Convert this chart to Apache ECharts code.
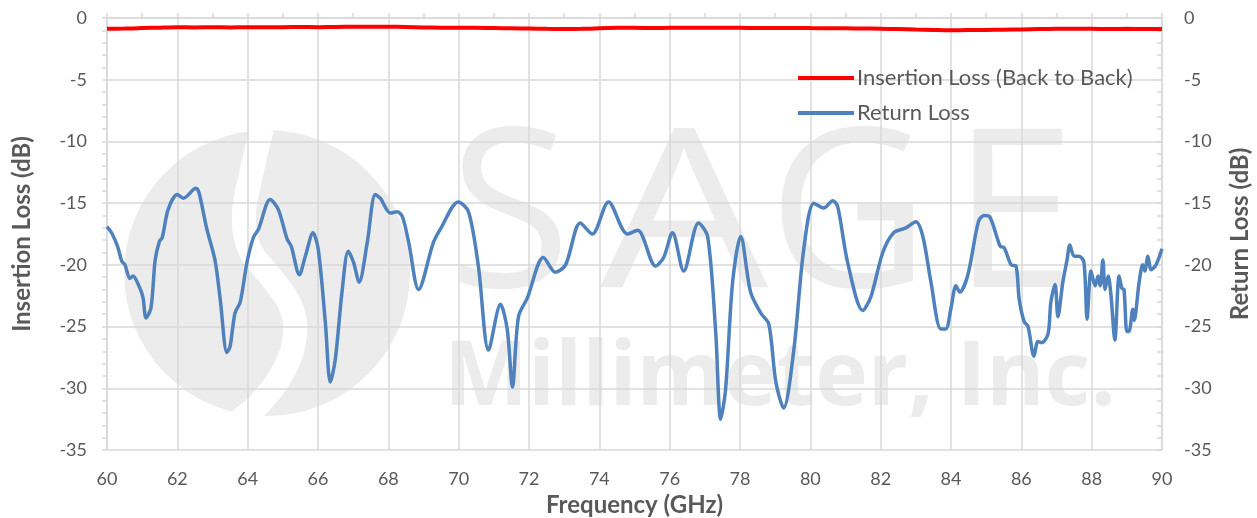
<!DOCTYPE html>
<html><head><meta charset="utf-8">
<script src="https://cdn.jsdelivr.net/npm/echarts@6/dist/echarts.min.js"></script>
<style>html,body{margin:0;padding:0;background:#fff}#c{width:1257px;height:518px}</style>
</head><body><div id="c"></div>
<script>
// ---- data ----
const xTickLabels = [60,62,64,66,68,70,72,74,76,78,80,82,84,86,88,90];
const yTickLabels = [0,-5,-10,-15,-20,-25,-30,-35];
const seriesNames = ['Insertion Loss (Back to Back)','Return Loss'];

const freqIL = [60,60.5,61,61.5,62,62.5,63,63.5,64,64.5,65,65.5,66,66.5,67,67.5,68,68.5,69,69.5,70,70.5,71,71.5,72,72.5,73,73.5,74,74.5,75,75.5,76,76.5,77,77.5,78,78.5,79,79.5,80,80.5,81,81.5,82,82.5,83,83.5,84,84.5,85,85.5,86,86.5,87,87.5,88,88.5,89,89.5,90];
const insertionLoss = [-0.88,-0.86,-0.82,-0.78,-0.75,-0.76,-0.74,-0.76,-0.74,-0.75,-0.74,-0.73,-0.74,-0.72,-0.71,-0.70,-0.71,-0.73,-0.76,-0.78,-0.79,-0.80,-0.82,-0.84,-0.86,-0.88,-0.89,-0.88,-0.84,-0.80,-0.79,-0.82,-0.80,-0.79,-0.78,-0.79,-0.80,-0.81,-0.82,-0.81,-0.82,-0.83,-0.84,-0.85,-0.87,-0.90,-0.94,-0.97,-0.99,-0.98,-0.97,-0.95,-0.93,-0.90,-0.88,-0.87,-0.88,-0.89,-0.88,-0.89,-0.90];

const freqRL = [60.00,60.13,60.30,60.42,60.51,60.65,60.74,60.89,61.02,61.11,61.25,61.37,61.49,61.57,61.74,62.00,62.17,62.53,62.62,62.84,63.07,63.22,63.41,63.50,63.64,63.79,63.98,64.16,64.31,64.64,64.87,65.12,65.24,65.47,65.64,65.86,66.01,66.21,66.35,66.49,66.69,66.86,67.01,67.17,67.40,67.63,67.77,68.06,68.25,68.40,68.58,68.86,69.28,69.48,69.99,70.28,70.56,70.85,71.19,71.38,71.53,71.70,71.95,72.41,72.75,73.04,73.46,73.80,74.26,74.80,75.09,75.60,75.83,76.08,76.40,76.82,77.08,77.31,77.45,77.59,77.79,78.02,78.30,78.59,78.82,79.02,79.24,79.53,79.81,80.10,80.38,80.64,80.78,81.06,81.49,81.72,82.06,82.37,82.72,83.00,83.20,83.43,83.71,83.85,84.00,84.14,84.25,84.48,84.78,84.94,85.10,85.40,85.51,85.71,85.85,85.94,86.08,86.19,86.36,86.47,86.58,86.76,86.84,86.96,87.04,87.18,87.30,87.38,87.50,87.64,87.78,87.87,87.98,88.10,88.18,88.24,88.32,88.38,88.47,88.55,88.66,88.78,88.86,88.92,89.00,89.06,89.17,89.21,89.35,89.45,89.51,89.60,89.69,89.83,90.00];
const returnLoss = [-16.9,-17.4,-18.5,-19.7,-20.0,-21.1,-20.9,-21.6,-22.6,-24.3,-23.5,-19.6,-18.1,-17.8,-15.5,-14.3,-14.6,-13.8,-14.2,-17.1,-19.6,-22.8,-27.1,-26.6,-23.9,-23.0,-19.8,-17.8,-17.1,-14.7,-15.5,-17.9,-18.5,-20.8,-19.3,-17.4,-18.8,-24.7,-29.5,-27.7,-22.0,-18.9,-19.8,-21.4,-18.2,-14.3,-14.6,-15.8,-15.7,-16.1,-18.2,-22.0,-18.2,-17.1,-14.9,-15.7,-20.1,-26.9,-23.2,-25.2,-29.9,-24.2,-22.7,-19.4,-20.6,-20.0,-16.6,-17.5,-14.9,-17.5,-17.2,-20.1,-19.4,-17.4,-20.5,-16.6,-17.7,-25.5,-32.5,-30.1,-21.4,-17.7,-22.2,-23.9,-24.8,-29.5,-31.6,-26.9,-18.8,-15.0,-15.4,-14.8,-15.3,-19.8,-23.7,-22.6,-19.0,-17.4,-17.0,-16.5,-17.7,-21.4,-25.2,-25.2,-23.5,-21.7,-22.2,-20.8,-16.5,-16.0,-16.1,-18.5,-18.6,-20.0,-20.1,-22.8,-24.6,-25.0,-27.4,-26.2,-26.3,-25.6,-23.0,-21.6,-24.2,-21.4,-19.6,-18.4,-19.3,-19.3,-19.8,-24.4,-20.5,-21.7,-20.9,-21.7,-19.6,-22.0,-20.9,-22.5,-26.1,-20.9,-21.9,-22.0,-25.4,-25.4,-23.6,-24.5,-21.4,-20.0,-20.5,-19.3,-20.4,-20.0,-18.7];

// ---- chart ----
const gridColor = '#d9d9d9';
const textColor = '#595959';
const FONT = 'Lato';
const wm = '#ececec';
const zip = (xs, ys) => xs.map((x, i) => [x, ys[i]]);

const yAxisCommon = (pos) => ({
  type: 'value', position: pos,
  min: Math.min(...yTickLabels), max: Math.max(...yTickLabels), interval: 5,
  name: pos === 'left' ? 'Insertion Loss (dB)' : 'Return Loss (dB)',
  nameLocation: 'middle', nameGap: pos === 'left' ? 73 : 66,
  nameTextStyle: {color: textColor, fontFamily: FONT, fontWeight: 'bold', fontSize: 24},
  axisLine: {show: true, lineStyle: {color: gridColor, width: 1.5}},
  axisTick: {show: true, inside: pos === 'right', length: 5, lineStyle: {color: gridColor, width: 1.5}},
  minorTick: {show: true, splitNumber: 5, length: 5, lineStyle: {color: gridColor, width: 1.5}},
  splitLine: {show: pos === 'left', lineStyle: {color: gridColor, width: 1.5}},
  axisLabel: {color: textColor, fontFamily: FONT, fontSize: 18, margin: pos === 'left' ? 20 : 22}
});

const option = {
  animation: false,
  backgroundColor: '#fff',
  grid: {left: 107, right: 95, top: 18, bottom: 68, containLabel: false, outerBoundsMode: 'none'},
  legend: {
    orient: 'vertical', left: 793, top: 62, itemGap: 13,
    itemWidth: 56, itemHeight: 4, icon: 'rect',
    textStyle: {color: textColor, fontFamily: FONT, fontSize: 22, lineHeight: 22, padding: [0,0,0,-2]},
    data: seriesNames
  },
  xAxis: {
    type: 'value', min: xTickLabels[0], max: xTickLabels[xTickLabels.length-1], interval: 2,
    name: 'Frequency (GHz)', nameLocation: 'middle', nameGap: 43,
    nameTextStyle: {color: textColor, fontFamily: FONT, fontWeight: 'bold', fontSize: 24},
    axisLine: {show: true, lineStyle: {color: gridColor, width: 1.5}},
    axisTick: {show: true, inside: true, length: 5, lineStyle: {color: gridColor, width: 1.5}},
    minorTick: {show: true, splitNumber: 2, length: 5, lineStyle: {color: gridColor, width: 1.5}},
    splitLine: {show: true, lineStyle: {color: gridColor, width: 1.5}},
    axisLabel: {color: textColor, fontFamily: FONT, fontSize: 18, margin: 20}
  },
  yAxis: [yAxisCommon('left'), yAxisCommon('right')],
  graphic: {elements: [
    {type: 'circle', z: -10, shape: {cx: 267, cy: 273, r: 143}, style: {fill: wm}},
    {type: 'polyline', z: -9, shape: {points: [[262,128],[251,175],[244,215],[250,250],[270,276],[290,305],[295,335],[284,370],[260,403],[240,420]], smooth: 0.4}, style: {stroke: '#fff', lineWidth: 24, fill: null}},
    {type: 'text', z: -10, x: 449, y: 224, style: {text: 'S', font: 'normal 222px "Open Sans"', fill: wm, textVerticalAlign: 'middle'}},
    {type: 'text', z: -10, x: 600, y: 224, scaleX: 1.2, style: {text: 'A', font: 'normal 222px "Open Sans"', fill: wm, textVerticalAlign: 'middle'}},
    {type: 'text', z: -10, x: 768, y: 224, style: {text: 'G', font: 'normal 222px "Open Sans"', fill: wm, textVerticalAlign: 'middle'}},
    {type: 'text', z: -10, x: 952, y: 224, style: {text: 'E', font: 'normal 222px "Open Sans"', fill: wm, textVerticalAlign: 'middle'}},
    {type: 'text', z: -10, x: 444, y: 380, style: {text: 'Millimeter, Inc.', font: 'bold 89px "Open Sans"', fill: wm, textVerticalAlign: 'middle'}}
  ]},
  series: [
    {name: seriesNames[0], type: 'line', yAxisIndex: 0, data: zip(freqIL, insertionLoss), showSymbol: false, symbol: 'none', smooth: 0.3,
     lineStyle: {color: '#ff0000', width: 4}, itemStyle: {color: '#ff0000'}, z: 3},
    {name: seriesNames[1], type: 'line', yAxisIndex: 1, data: zip(freqRL, returnLoss), showSymbol: false, symbol: 'none', smooth: 0.3,
     lineStyle: {color: '#4f81bd', width: 3.5}, itemStyle: {color: '#4f81bd'}, z: 2}
  ]
};
const chart = echarts.init(document.getElementById('c'), null, {renderer: 'canvas'});
chart.setOption(option);
</script>
</body></html>
